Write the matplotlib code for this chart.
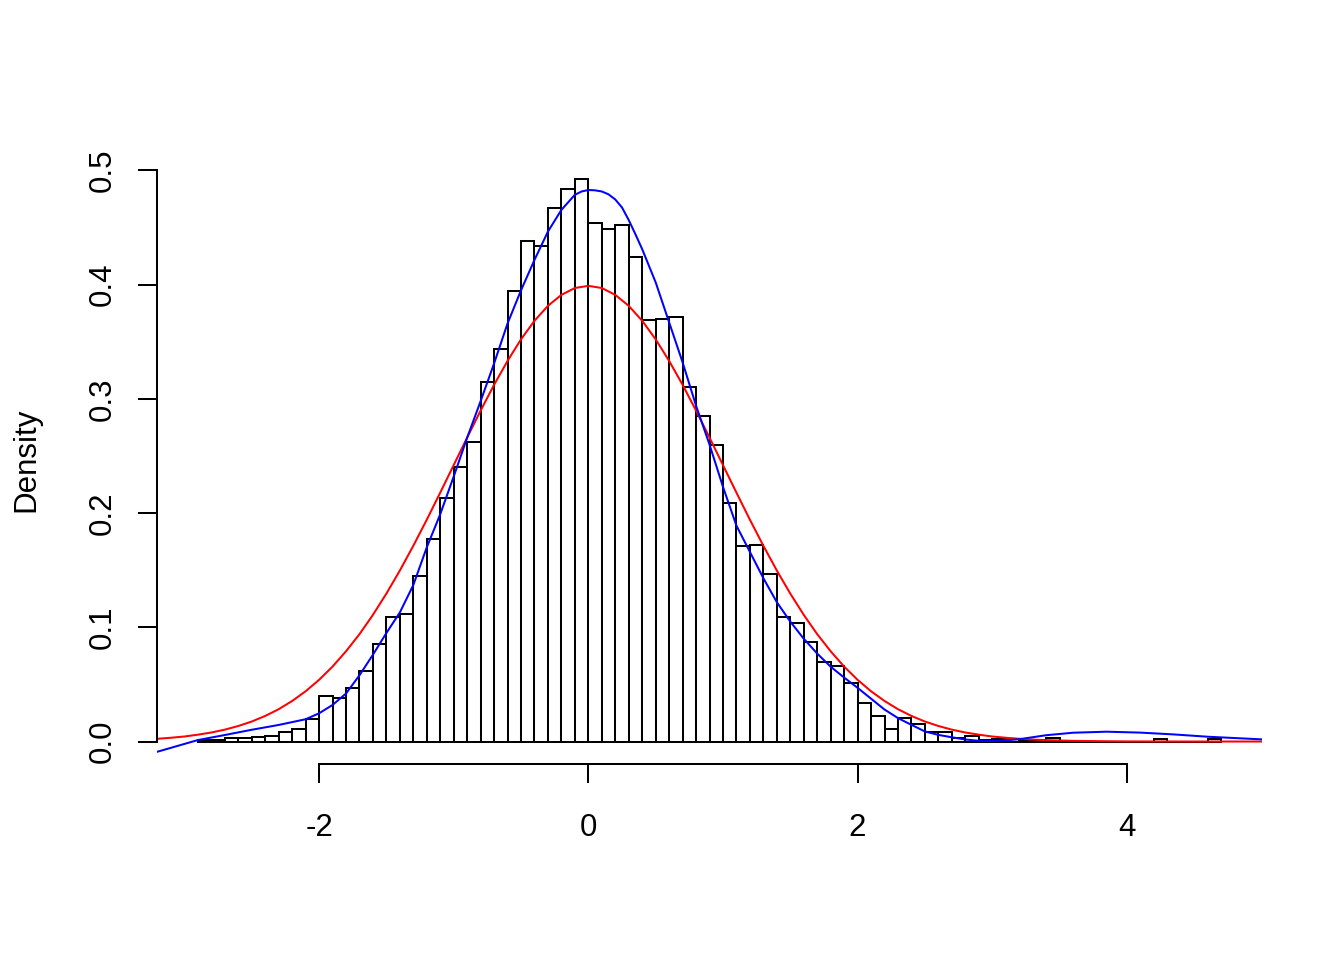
import matplotlib
matplotlib.use("Agg")
import numpy as np
import matplotlib.pyplot as plt

FONT_SIZE = 22.5

# histogram: breaks start and width, density of each bin
break_start = -2.9
bin_width = 0.1
densities = [
    0.001, 0.001, 0.003, 0.003, 0.004, 0.005, 0.008, 0.011, 0.020,
    0.040, 0.038, 0.047, 0.062, 0.085, 0.109, 0.112, 0.145, 0.177, 0.213,
    0.240, 0.262, 0.315, 0.344, 0.394, 0.438, 0.434, 0.467, 0.484, 0.492,
    0.454, 0.449, 0.452, 0.424, 0.369, 0.370, 0.372, 0.310, 0.285, 0.260,
    0.209, 0.171, 0.172, 0.147, 0.109, 0.104, 0.087, 0.070, 0.066, 0.051,
    0.034, 0.022, 0.011, 0.021, 0.015, 0.008, 0.008, 0.003, 0.005, 0.001,
    0.002, 0.002, 0.001, 0.001, 0.003, 0.0, 0.0, 0.0, 0.0, 0.0,
    0.0, 0.0, 0.002, 0.0, 0.0, 0.0, 0.002,
]

# red curve (normal density)
red_x = [-3.2, -3.1, -3.0, -2.9, -2.8, -2.7, -2.6, -2.5, -2.4, -2.3, -2.2, -2.1,
         -2.0, -1.9, -1.8, -1.7, -1.6, -1.5, -1.4, -1.3, -1.2, -1.1, -1.0, -0.9,
         -0.8, -0.7, -0.6, -0.5, -0.4, -0.3, -0.2, -0.1, 0.0, 0.1, 0.2, 0.3, 0.4,
         0.5, 0.6, 0.7, 0.8, 0.9, 1.0, 1.1, 1.2, 1.3, 1.4, 1.5, 1.6, 1.7, 1.8,
         1.9, 2.0, 2.1, 2.2, 2.3, 2.4, 2.5, 2.6, 2.7, 2.8, 2.9, 3.0, 3.1, 3.2,
         3.3, 3.4, 3.5, 3.6, 3.8, 4.0, 4.5, 5.0]
red_y = [0.0024, 0.0033, 0.0044, 0.0060, 0.0079, 0.0104, 0.0136, 0.0175, 0.0224,
         0.0283, 0.0355, 0.0440, 0.0540, 0.0656, 0.0790, 0.0940, 0.1109, 0.1295,
         0.1497, 0.1714, 0.1942, 0.2179, 0.2420, 0.2661, 0.2897, 0.3123, 0.3332,
         0.3521, 0.3683, 0.3814, 0.3910, 0.3970, 0.3989, 0.3970, 0.3910, 0.3814,
         0.3683, 0.3521, 0.3332, 0.3123, 0.2897, 0.2661, 0.2420, 0.2179, 0.1942,
         0.1714, 0.1497, 0.1295, 0.1109, 0.0940, 0.0790, 0.0656, 0.0540, 0.0440,
         0.0355, 0.0283, 0.0224, 0.0175, 0.0136, 0.0104, 0.0079, 0.0060, 0.0044,
         0.0033, 0.0024, 0.0017, 0.0012, 0.0009, 0.0006, 0.0003, 0.0001, 0.0, 0.0]

# blue curve (fitted density, goes a bit negative on the left)
blue_x = [-3.2, -3.0, -2.9, -2.7, -2.5, -2.3, -2.1, -2.0, -1.9, -1.8, -1.7, -1.6,
          -1.5, -1.4, -1.3, -1.2, -1.1, -1.0, -0.9, -0.8, -0.7, -0.6, -0.5, -0.4,
          -0.3, -0.2, -0.1, -0.05, 0.0, 0.05, 0.1, 0.15, 0.2, 0.25, 0.3, 0.35, 0.4,
          0.5, 0.6, 0.7, 0.8, 0.9, 1.0, 1.1, 1.2, 1.3, 1.4, 1.5, 1.6, 1.7, 1.8,
          1.9, 2.0, 2.1, 2.2, 2.3, 2.4, 2.5, 2.6, 2.7, 2.8, 2.9, 3.0, 3.1, 3.2,
          3.4, 3.6, 3.85, 4.1, 4.35, 4.6, 5.0]
blue_y = [-0.0089, -0.0021, 0.0013, 0.0057, 0.0103, 0.0145, 0.0195, 0.0247, 0.032,
          0.042, 0.058, 0.076, 0.095, 0.113, 0.137, 0.170, 0.199, 0.232, 0.266,
          0.298, 0.331, 0.366, 0.395, 0.4216, 0.4464, 0.4654, 0.4786, 0.4815,
          0.4828, 0.4825, 0.4815, 0.479, 0.4745, 0.4675, 0.4565, 0.444, 0.431,
          0.402, 0.367, 0.332, 0.294, 0.260, 0.223, 0.189, 0.166, 0.143, 0.122,
          0.105, 0.090, 0.077, 0.0655, 0.056, 0.047, 0.0375, 0.028, 0.0205, 0.0146,
          0.0088, 0.0058, 0.0037, 0.0018, 0.0006, 0.0004, 0.0010, 0.0020, 0.0055,
          0.0077, 0.0086, 0.0078, 0.0062, 0.0042, 0.0019]

x_ticks = [-2, 0, 2, 4]
y_ticks = [0.0, 0.1, 0.2, 0.3, 0.4, 0.5]

plt.rcParams["font.family"] = ["Liberation Sans", "DejaVu Sans"]
plt.rcParams["axes.unicode_minus"] = False

fig = plt.figure(figsize=(13.44, 9.6), dpi=100)
ax = fig.add_axes([157 / 1344, 196 / 960, 1105 / 1344, 607 / 960])

lefts = [break_start + i * bin_width for i in range(len(densities))]
ax.bar(lefts, densities, width=bin_width, align="edge",
       facecolor="white", edgecolor="black", linewidth=1.45)

ax.plot(red_x, red_y, color="#FF0000", linewidth=1.45)
ax.plot(blue_x, blue_y, color="#0000FF", linewidth=1.45)

# R style limits: 4% padding round the data range
x_lo, x_hi = break_start, lefts[-1] + bin_width
pad_x = 0.04 * (x_hi - x_lo)
ax.set_xlim(x_lo - pad_x, x_hi + pad_x)
y_hi = max(densities)
ax.set_ylim(-0.04 * y_hi, 1.04 * y_hi)

for side in ["top", "right"]:
    ax.spines[side].set_visible(False)
ax.spines["left"].set_bounds(0, 0.5)
ax.spines["bottom"].set_bounds(-2, 4)
for side in ["left", "bottom"]:
    ax.spines[side].set_linewidth(1.45)

ax.set_xticks(x_ticks)
ax.set_xticklabels([str(t) for t in x_ticks])
ax.set_yticks(y_ticks)
ax.set_yticklabels([f"{t:.1f}" for t in y_ticks])
ax.tick_params(axis="both", length=14, width=1.45, labelsize=FONT_SIZE)
ax.tick_params(axis="x", pad=21)
ax.tick_params(axis="y", pad=14)
for label in ax.get_yticklabels():
    label.set_rotation(90)
    label.set_va("center")

fig.text(26 / 1344, 1 - 460 / 960, "Density", rotation=90,
         ha="center", va="center", fontsize=FONT_SIZE)

plt.savefig("out.png", dpi=100)
